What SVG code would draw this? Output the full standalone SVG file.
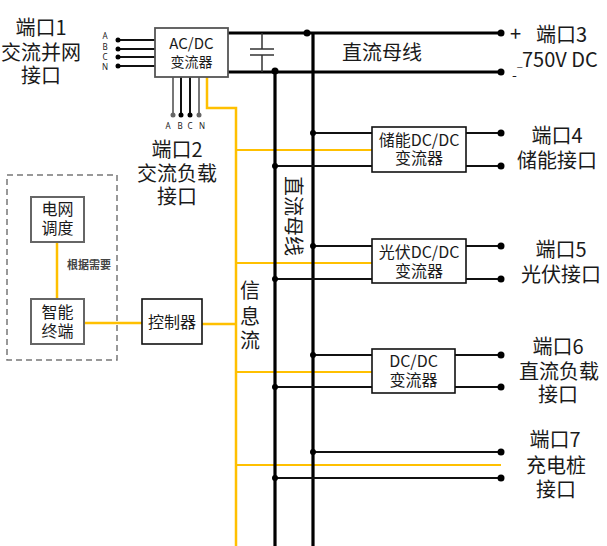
<svg xmlns="http://www.w3.org/2000/svg" width="607" height="546" viewBox="0 0 607 546">
<style>
text{font-family:"Noto Sans CJK SC","Noto Sans",sans-serif;fill:#1a1a1a}
.big{font-size:20px}
.mid{font-size:16px}
.c{text-anchor:middle}
.box{fill:#fff;stroke:#111;stroke-width:1.6}
.gbox{fill:#fff;stroke:#666;stroke-width:2}
.bus{stroke:#000;stroke-width:3.2;fill:none}
.br{stroke:#111;stroke-width:1.8;fill:none}
.y{stroke:#FFC000;stroke-width:2;fill:none}
.dot{fill:#000}
.lbl{font-size:8px;font-family:"Noto Sans","DejaVu Sans",sans-serif}
</style>

<g id="connectors">
  <!-- information (yellow) lines -->
  <polyline class="y" points="207,77 207,108 236,108 236,546" style="stroke-width:2.5"/>
  <line class="y" x1="236" y1="150" x2="372" y2="150"/>
  <line class="y" x1="236" y1="263" x2="372" y2="263"/>
  <line class="y" x1="236" y1="372" x2="372" y2="372"/>
  <line class="y" x1="236" y1="465" x2="501" y2="465"/>
  <line class="y" x1="57" y1="242" x2="57" y2="299" style="stroke-width:2.5"/>
  <line class="y" x1="84" y1="323" x2="142" y2="323" style="stroke-width:2.5"/>
  <line class="y" x1="202" y1="324" x2="236" y2="324" style="stroke-width:2.5"/>

  <!-- DC bus -->
  <line class="bus" x1="228" y1="33" x2="501" y2="33"/>
  <line class="bus" x1="228" y1="72" x2="501" y2="72"/>
  <line class="bus" x1="275" y1="71" x2="275" y2="546"/>
  <line class="bus" x1="313" y1="33" x2="313" y2="546"/>
  <circle class="dot" cx="307" cy="33" r="3.5"/>
  <circle class="dot" cx="275" cy="71" r="3.5"/>
  <circle class="dot" cx="501" cy="33" r="3.5"/>
  <circle class="dot" cx="501" cy="72" r="3.5"/>

  <!-- capacitor -->
  <g stroke="#333" stroke-width="1.5">
    <line x1="262" y1="33" x2="262" y2="49"/>
    <line x1="250" y1="49" x2="274" y2="49"/>
    <line x1="250" y1="55" x2="274" y2="55"/>
    <line x1="262" y1="55" x2="262" y2="72"/>
  </g>

  <!-- AC inputs -->
  <g stroke="#111" stroke-width="2">
    <line x1="118" y1="40" x2="155" y2="40"/>
    <line x1="118" y1="49" x2="155" y2="49"/>
    <line x1="118" y1="57" x2="155" y2="57"/>
    <line x1="118" y1="66" x2="155" y2="66"/>
  </g>
  <circle class="dot" cx="118" cy="40" r="2.5"/>
  <circle class="dot" cx="118" cy="49" r="2.5"/>
  <circle class="dot" cx="118" cy="57" r="2.5"/>
  <circle class="dot" cx="118" cy="66" r="2.5"/>

  <!-- AC load outputs -->
  <line x1="173" y1="77" x2="173" y2="115" stroke="#777" stroke-width="2"/>
  <line x1="181" y1="77" x2="181" y2="115" stroke="#111" stroke-width="2"/>
  <line x1="190" y1="77" x2="190" y2="115" stroke="#111" stroke-width="2"/>
  <line x1="199" y1="77" x2="199" y2="115" stroke="#777" stroke-width="2"/>
  <circle cx="173" cy="115" r="2.5" fill="#666"/>
  <circle class="dot" cx="181" cy="115" r="2.5"/>
  <circle class="dot" cx="190" cy="115" r="2.5"/>
  <circle cx="199" cy="115" r="2.5" fill="#666"/>

  <!-- storage branch -->
  <line class="br" x1="313" y1="133" x2="372" y2="133"/>
  <line class="br" x1="466" y1="133" x2="501" y2="133"/>
  <line class="br" x1="275" y1="166" x2="372" y2="166"/>
  <line class="br" x1="466" y1="166" x2="501" y2="166"/>
  <circle class="dot" cx="313" cy="133" r="3"/>
  <circle class="dot" cx="275" cy="166" r="3"/>
  <circle class="dot" cx="501" cy="133" r="3.5"/>
  <circle class="dot" cx="501" cy="166" r="3.5"/>

  <!-- PV branch -->
  <line class="br" x1="313" y1="246" x2="372" y2="246"/>
  <line class="br" x1="466" y1="246" x2="501" y2="246"/>
  <line class="br" x1="275" y1="279" x2="372" y2="279"/>
  <line class="br" x1="466" y1="279" x2="501" y2="279"/>
  <circle class="dot" cx="313" cy="246" r="3"/>
  <circle class="dot" cx="275" cy="279" r="3"/>
  <circle class="dot" cx="501" cy="246" r="3.5"/>
  <circle class="dot" cx="501" cy="279" r="3.5"/>

  <!-- DC load branch -->
  <line class="br" x1="313" y1="355" x2="372" y2="355"/>
  <line class="br" x1="455" y1="355" x2="501" y2="355"/>
  <line class="br" x1="275" y1="387" x2="372" y2="387"/>
  <line class="br" x1="455" y1="387" x2="501" y2="387"/>
  <circle class="dot" cx="313" cy="355" r="3"/>
  <circle class="dot" cx="275" cy="387" r="3"/>
  <circle class="dot" cx="501" cy="355" r="3.5"/>
  <circle class="dot" cx="501" cy="387" r="3.5"/>

  <!-- charging pile branch -->
  <line class="br" x1="313" y1="452" x2="501" y2="452"/>
  <line class="br" x1="275" y1="478" x2="501" y2="478"/>
  <circle class="dot" cx="313" cy="452" r="3"/>
  <circle class="dot" cx="275" cy="478" r="3"/>
  <circle class="dot" cx="501" cy="452" r="3.5"/>
  <circle class="dot" cx="501" cy="478" r="3.5"/>
</g>

<g id="acdc">
  <rect x="155" y="28" width="73" height="49" fill="#fff" stroke="#555" stroke-width="1.8"/>
  <text class="c"><tspan x="191.5" y="49" style="font-size:15px">AC/DC</tspan><tspan x="191.5" y="67" style="font-size:14px">变流器</tspan></text>
</g>

<g id="ac-labels">
  <text class="lbl c"><tspan x="105" y="39">A</tspan><tspan x="105" y="50">B</tspan><tspan x="105" y="60">C</tspan><tspan x="105" y="70">N</tspan></text>
  <text class="lbl c" x="168" y="129">A</text>
  <text class="lbl c" x="180" y="129">B</text>
  <text class="lbl c" x="190" y="129">C</text>
  <text class="lbl c" x="202" y="129">N</text>
</g>

<g id="port1">
  <text class="big c"><tspan x="41" y="35">端口1</tspan><tspan x="41" y="60">交流并网</tspan><tspan x="41" y="83">接口</tspan></text>
</g>

<g id="port2">
  <text class="big c"><tspan x="177" y="157">端口2</tspan><tspan x="177" y="181">交流负载</tspan><tspan x="177" y="204">接口</tspan></text>
</g>

<g id="port3">
  <text><tspan class="big" x="510" y="41">+</tspan><tspan class="big" x="536" y="42">端口3</tspan><tspan x="517" y="66" style="font-size:10px">_</tspan><tspan class="big" x="522" y="67">750V DC</tspan><tspan x="512" y="80" style="font-size:14px">-</tspan></text>
</g>

<g id="dcbus-label">
  <text class="big" x="342" y="60">直流母线</text>
  <text class="big c" x="0" y="0" transform="translate(286,216) rotate(90)">直流母线</text>
</g>

<g id="storage">
  <rect class="box" x="372" y="127" width="94" height="45"/>
  <text class="mid c"><tspan x="419" y="146">储能DC/DC</tspan><tspan x="419" y="164">变流器</tspan></text>
</g>
<g id="port4">
  <text class="big c"><tspan x="557" y="143">端口4</tspan><tspan x="557" y="168">储能接口</tspan></text>
</g>

<g id="pv">
  <rect class="box" x="372" y="239" width="94" height="44"/>
  <text class="mid c"><tspan x="419" y="258">光伏DC/DC</tspan><tspan x="419" y="277">变流器</tspan></text>
</g>
<g id="port5">
  <text class="big c"><tspan x="561" y="257">端口5</tspan><tspan x="561" y="282">光伏接口</tspan></text>
</g>

<g id="dcdc">
  <rect class="box" x="372" y="349" width="83" height="44"/>
  <text class="mid c"><tspan x="413.5" y="367">DC/DC</tspan><tspan x="413.5" y="386">变流器</tspan></text>
</g>
<g id="port6">
  <text class="big c"><tspan x="558" y="354">端口6</tspan><tspan x="559" y="379">直流负载</tspan><tspan x="558" y="402">接口</tspan></text>
</g>

<g id="port7">
  <text class="big c"><tspan x="555" y="447">端口7</tspan><tspan x="556" y="473">充电桩</tspan><tspan x="556" y="497">接口</tspan></text>
</g>

<g id="info-flow">
  <text class="big c"><tspan x="250" y="298">信</tspan><tspan x="250" y="324">息</tspan><tspan x="250" y="348">流</tspan></text>
</g>

<g id="dispatch-group">
  <rect x="7" y="175" width="110" height="185" fill="none" stroke="#777" stroke-width="1.5" stroke-dasharray="6,4"/>
  <text x="67" y="269" style="font-size:11px;font-weight:bold;fill:#444">根据需要</text>
</g>

<g id="grid-dispatch">
  <rect class="gbox" x="31" y="197" width="53" height="45"/>
  <text class="mid c"><tspan x="57.5" y="215">电网</tspan><tspan x="57.5" y="234">调度</tspan></text>
</g>

<g id="smart-terminal">
  <rect class="gbox" x="31" y="299" width="53" height="45"/>
  <text class="mid c"><tspan x="57.5" y="318">智能</tspan><tspan x="57.5" y="337">终端</tspan></text>
</g>

<g id="controller">
  <rect class="box" x="142" y="299" width="60" height="45"/>
  <text class="mid c" x="172" y="328">控制器</text>
</g>
</svg>
